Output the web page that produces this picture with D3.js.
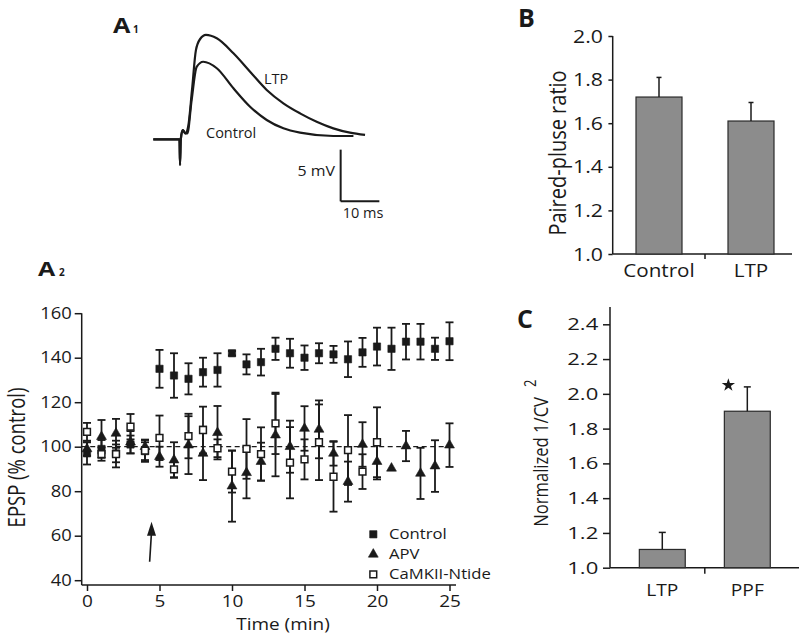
<!DOCTYPE html>
<html>
<head>
<meta charset="utf-8">
<script src="https://cdn.jsdelivr.net/npm/d3@7"></script>
<style>
  body { margin: 0; background: #fff; }
  svg { display: block; font-family: "Open Sans", sans-serif; }
</style>
</head>
<body>
<svg id="fig" width="800" height="643"></svg>
<script>
// ---- A1: example EPSP traces (time in ms, mV above baseline) ----
const tracePreT = [0, 6.77, 6.9, 7.1, 7.6, 8.3]
const tracePreV = [0, 0, -2.49, 0, 0.9, 0.58]
const controlTraceT = [8.8, 9.9, 11.2, 12.9, 16.4, 20.7, 25.0, 29.3, 33.6, 37.9, 46.5, 51.7]
const controlTraceV = [0.58, 3.8, 7.0, 7.5, 6.87, 4.93, 3.15, 1.87, 1.06, 0.64, 0.32, 0.32]
const ltpTraceT = [9.0, 10.0, 11.0, 12.1, 13.6, 16.4, 20.7, 25.0, 29.3, 33.6, 37.9, 42.2, 46.5, 50.8, 54.7]
const ltpTraceV = [1.22, 4.77, 8.6, 9.7, 10.1, 9.77, 8.32, 6.54, 4.77, 3.48, 2.51, 1.70, 1.06, 0.64, 0.42]

// ---- A2: EPSP (% control) vs time ----
const timeMin = [0, 1, 2, 3, 4, 5, 6, 7, 8, 9, 10, 11, 12, 13, 14, 15, 16, 17, 18, 19, 20, 21, 22, 23, 24, 25]
const controlMean = [97, 99, 97, 101, 98, 135, 132, 130.5, 133.5, 134.5, 142, 137, 138, 144, 142, 140, 142, 141.5, 139.3, 142.4, 145, 144, 147.2, 147.2, 144, 147.4]
const controlSem = [5, 4, 4, 4, 4, 8.5, 10, 7, 6.5, 7.5, 1, 4.5, 6, 5, 6.5, 5.5, 4.5, 3.8, 8, 6.5, 8.5, 9.5, 8, 8, 5, 8.5]
const apvMean = [99, 104.5, 106, 102, 100, 95.5, 94, 100.7, 97, 106.3, 82.3, 88.3, 93.3, 105.2, 100, 108.2, 107.8, 97, 84.3, 101, 93.3, 90.3, 100.3, 88, 91.3, 100.7]
const apvSem = [3, 7.5, 6.5, 5, 3, 4.5, 8, 13, 12, 12, 16, 11.5, 8.5, 18.5, 11.7, 10, 13, 5.5, 9, 10, 8, 0, 6.8, 11.5, 11.6, 9.8]
const camkMean = [106.7, 96.7, 96.7, 109, 98.2, 104, 89.8, 104.8, 107.5, 99.3, 88.8, 99, 96.7, 110.5, 92.8, 94.3, 102, 86.5, 98.5, 88.8, 102]
const camkSem = [4, 3, 6, 5.7, 5, 10, 3.5, 10, 10.5, 4, 9.4, 13.4, 12, 13.8, 16, 9, 17, 15.7, 15.7, 7.8, 15.7]
const epspTicks = [40, 60, 80, 100, 120, 140, 160]
const timeTicks = [0, 5, 10, 15, 20, 25]
const legendLabels = ["Control", "APV", "CaMKII-Ntide"]
const arrowTime = [4.32, 4.45]   // tail, head (min)
const arrowEpsp = [48.3, 66.3]   // tail, head (% control)

// ---- B: paired-pulse ratio ----
const ppCats = ["Control", "LTP"]
const ppMean = [1.72, 1.61]
const ppErr = [0.09, 0.085]
const ppTicks = [1.0, 1.2, 1.4, 1.6, 1.8, 2.0]

// ---- C: normalized 1/CV^2 ----
const cvCats = ["LTP", "PPF"]
const cvMean = [1.105, 1.9]
const cvErr = [0.098, 0.14]
const cvTicks = [1.0, 1.2, 1.4, 1.6, 1.8, 2.0, 2.2, 2.4]
const starCat = "PPF", starValue = 2.05

const ink = "#1a1a1a"
const svg = d3.select("#fig")

function label(g, x, y, s, opt = {}) {
  return g.append("text")
    .attr("transform", `translate(${x},${y}) scale(${opt.sx || 1},1)` + (opt.rot ? ` rotate(${opt.rot})` : ""))
    .attr("font-size", opt.size || 14)
    .attr("text-anchor", opt.anchor || "start")
    .attr("font-weight", opt.bold ? 700 : null)
    .attr("fill", ink)
    .text(s)
}

function styleAxis(g, size, sx) {
  g.attr("font-size", null).attr("font-family", null)
  g.select(".domain").remove()
  g.selectAll(".tick line").attr("stroke", ink).attr("stroke-width", 1.5)
  g.selectAll(".tick text").attr("fill", ink).attr("font-size", size)
    .attr("transform", `scale(${sx},1)`)
}

function hline(x1, x2, y, w = 1.5) {
  svg.append("line").attr("x1", x1).attr("x2", x2).attr("y1", y).attr("y2", y)
    .attr("stroke", ink).attr("stroke-width", w)
}
function vline(x, y1, y2, w = 1.5) {
  svg.append("line").attr("x1", x).attr("x2", x).attr("y1", y1).attr("y2", y2)
    .attr("stroke", ink).attr("stroke-width", w)
}

// ================= A1 =================
const xTr = d3.scaleLinear().domain([0, 55]).range([153.3, 366.2])
const yTr = d3.scaleLinear().domain([0, 5]).range([139.3, 87.6])
const traceLine = d3.line().x(d => xTr(d[0])).y(d => yTr(d[1])).curve(d3.curveMonotoneX)
const pre = tracePreT.map((t, i) => [t, tracePreV[i]])
const traces = [
  pre.concat(ltpTraceT.map((t, i) => [t, ltpTraceV[i]])),
  pre.concat(controlTraceT.map((t, i) => [t, controlTraceV[i]]))
]
svg.append("g").selectAll("path").data(traces).join("path")
  .attr("d", traceLine).attr("fill", "none").attr("stroke", ink).attr("stroke-width", 2.2)
  .attr("stroke-linejoin", "round")

// scale bar: 10 ms x 5 mV
vline(xTr(48.4), yTr(-6), yTr(-1), 2)
hline(xTr(48.4), xTr(58.4), yTr(-6), 2)
label(svg, 335, 176, "5 mV", { size: 14.5, anchor: "end", sx: 1.1 })
label(svg, 342.7, 218, "10 ms", { size: 14.5 })
label(svg, 264, 84, "LTP", { size: 14.5 })
label(svg, 206, 137.7, "Control", { size: 14.5 })

label(svg, 113, 33, "A", { size: 21, bold: true, sx: 1.2 })
label(svg, 133, 33, "1", { size: 10, bold: true })

// ================= A2 =================
const xT = d3.scaleLinear().domain([0, 25]).range([87, 449.5])
const yE = d3.scaleLinear().domain([40, 160]).range([580.2, 313.2])
const axX0 = 81.7, axY0 = 585

const gy = svg.append("g").attr("transform", `translate(${axX0},0)`)
  .call(d3.axisLeft(yE).tickValues(epspTicks).tickSize(7).tickSizeOuter(0))
styleAxis(gy, 16, 1.15)
gy.selectAll(".tick text").attr("x", -10 / 1.15)
vline(axX0, yE(160), axY0)

const gx = svg.append("g").attr("transform", `translate(0,${axY0})`)
  .call(d3.axisBottom(xT).tickValues(timeTicks).tickSize(6).tickPadding(4.5).tickSizeOuter(0))
styleAxis(gx, 16.5, 1.15)
hline(axX0, 456, axY0)

label(svg, 25, 457.5, "EPSP (% control)", { size: 18.5, anchor: "middle", rot: -90, sx: 1.25 })
label(svg, 283, 630, "Time (min)", { size: 16.5, anchor: "middle", sx: 1.15 })
label(svg, 38, 276, "A", { size: 20, bold: true, sx: 1.25 })
label(svg, 59, 276, "2", { size: 10, bold: true })

// reference line at 100 %
svg.append("line").attr("x1", axX0).attr("x2", 453).attr("y1", yE(100)).attr("y2", yE(100))
  .attr("stroke", ink).attr("stroke-width", 1.2).attr("stroke-dasharray", "5,3.5")

const series = [
  { mean: controlMean, sem: controlSem, kind: "square" },
  { mean: apvMean, sem: apvSem, kind: "triangle" },
  { mean: camkMean, sem: camkSem, kind: "open" }
]
const pts = series.map(s => s.mean.map((m, i) => ({ t: timeMin[i], m, e: s.sem[i], kind: s.kind })))

const gErr = svg.append("g").attr("stroke", ink).attr("stroke-width", 1.8)
pts.flat().filter(d => d.e > 0).forEach(d => {
  const x = xT(d.t), y1 = yE(d.m - d.e), y2 = yE(d.m + d.e)
  gErr.append("line").attr("x1", x).attr("x2", x).attr("y1", y1).attr("y2", y2)
  gErr.append("line").attr("x1", x - 4).attr("x2", x + 4).attr("y1", y1).attr("y2", y1)
  gErr.append("line").attr("x1", x - 4).attr("x2", x + 4).attr("y1", y2).attr("y2", y2)
})

const symPath = {
  square: d3.symbol(d3.symbolSquare, 53)(),
  triangle: d3.symbol(d3.symbolTriangle, 42)(),
  open: d3.symbol(d3.symbolSquare, 46)()
}
function drawMarker(g, kind, x, y) {
  g.append("path").attr("d", symPath[kind]).attr("transform", `translate(${x},${y})`)
    .attr("fill", kind === "open" ? "#fff" : ink)
    .attr("stroke", ink).attr("stroke-width", kind === "open" ? 1.5 : 0.6)
}
const gMk = svg.append("g")
pts.forEach(s => s.forEach(d => drawMarker(gMk, d.kind, xT(d.t), yE(d.m))))

// induction arrow
const ax1 = xT(arrowTime[0]), ay1 = yE(arrowEpsp[0]), ax2 = xT(arrowTime[1]), ay2 = yE(arrowEpsp[1])
svg.append("line").attr("x1", ax1).attr("y1", ay1).attr("x2", ax2).attr("y2", ay2 + 10)
  .attr("stroke", ink).attr("stroke-width", 1.6)
svg.append("path").attr("d", `M${ax2},${ay2}L${ax2 - 4.5},${ay2 + 14}L${ax2 + 4.5},${ay2 + 14}Z`).attr("fill", ink)

// legend
const legKinds = ["square", "triangle", "open"]
legendLabels.forEach((s, i) => {
  const by = 539.3 + i * 20
  drawMarker(svg, legKinds[i], 373.3, by - 5)
  label(svg, 389, by, s, { size: 14.5, sx: 1.15 })
})

// ================= B =================
const yB = d3.scaleLinear().domain([1, 2]).range([254, 36])
const xB = d3.scaleBand().domain(ppCats).range([613, 797]).paddingInner(0.5).paddingOuter(0.25)
const bAx = 612.7

const gby = svg.append("g").attr("transform", `translate(${bAx},0)`)
  .call(d3.axisLeft(yB).tickValues(ppTicks).tickFormat(d3.format(".1f")).tickSize(4.3).tickSizeOuter(0))
styleAxis(gby, 19, 1.12)
gby.selectAll(".tick text").attr("x", -9.7 / 1.12)
vline(bAx, yB(2), yB(1))
hline(bAx, 792, yB(1))
vline(xB("Control") + xB.bandwidth() + xB.step() * xB.paddingInner() / 2, yB(1), yB(1) + 5)

const gbx = svg.append("g").attr("transform", `translate(0,${yB(1)})`)
  .call(d3.axisBottom(xB).tickSize(0).tickPadding(10.5))
styleAxis(gbx, 17.5, 1.18)

svg.append("g").selectAll("rect").data(ppCats).join("rect")
  .attr("x", d => xB(d)).attr("width", xB.bandwidth())
  .attr("y", (d, i) => yB(ppMean[i])).attr("height", (d, i) => yB(1) - yB(ppMean[i]))
  .attr("fill", "#8c8c8c").attr("stroke", "#2a2a2a").attr("stroke-width", 1.2)
ppCats.forEach((c, i) => {
  const x = xB(c) + xB.bandwidth() / 2
  vline(x, yB(ppMean[i]), yB(ppMean[i] + ppErr[i]), 1.5)
  hline(x - 2.5, x + 2.5, yB(ppMean[i] + ppErr[i]), 1.5)
})
label(svg, 566, 153, "Paired-pluse ratio", { size: 20, anchor: "middle", rot: -90, sx: 1.2 })
label(svg, 518, 27, "B", { size: 25, bold: true })

// ================= C =================
const yC = d3.scaleLinear().domain([1, 2.4]).range([567.7, 324.3])
const xC = d3.scaleBand().domain(cvCats).range([610, 799.6]).paddingInner(0.46).paddingOuter(0.345)
const cAx = 610

const gcy = svg.append("g").attr("transform", `translate(${cAx},0)`)
  .call(d3.axisLeft(yC).tickValues(cvTicks).tickFormat(d3.format(".1f")).tickSize(7).tickSizeOuter(0))
styleAxis(gcy, 17, 1.3)
gcy.selectAll(".tick text").attr("x", -11.7 / 1.3)
vline(cAx, yC(2.5), yC(1))
hline(cAx, 799, yC(1))
vline(xC("LTP") + xC.bandwidth() + xC.step() * xC.paddingInner() / 2, yC(1), yC(1) + 6)

const gcx = svg.append("g").attr("transform", `translate(0,${yC(1)})`)
  .call(d3.axisBottom(xC).tickSize(0).tickPadding(16.5))
styleAxis(gcx, 16, 1.2)

svg.append("g").selectAll("rect").data(cvCats).join("rect")
  .attr("x", d => xC(d)).attr("width", xC.bandwidth())
  .attr("y", (d, i) => yC(cvMean[i])).attr("height", (d, i) => yC(1) - yC(cvMean[i]))
  .attr("fill", "#8c8c8c").attr("stroke", "#2a2a2a").attr("stroke-width", 1.2)
cvCats.forEach((c, i) => {
  const x = xC(c) + xC.bandwidth() / 2
  vline(x, yC(cvMean[i]), yC(cvMean[i] + cvErr[i]), 1.5)
  hline(x - 3.5, x + 3.5, yC(cvMean[i] + cvErr[i]), 1.5)
})
svg.append("path").attr("d", d3.symbol(d3.symbolStar, 55)())
  .attr("transform", `translate(${xC(starCat) + 4},${yC(starValue)})`).attr("fill", ink)

const cLab = label(svg, 548, 526.7, "Normalized 1/CV", { size: 16.6, rot: -90, sx: 1.2 })
cLab.append("tspan").attr("dx", 10).attr("dy", -10).attr("font-size", 13).text("2")
label(svg, 517, 328, "C", { size: 25, bold: true })
</script>
</body>
</html>
